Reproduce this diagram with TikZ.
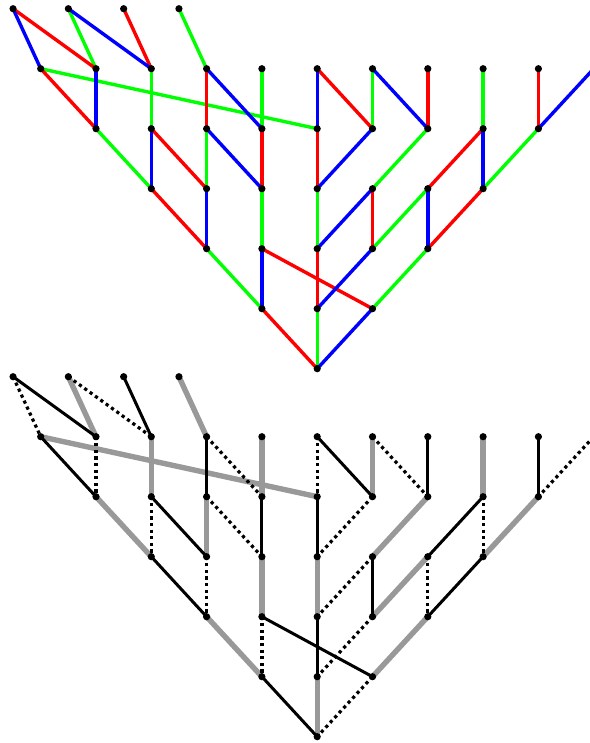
\documentclass[tikz,border=0pt]{standalone}
\usepackage{tikz}
\usetikzlibrary{calc}
\definecolor{cred}{HTML}{FF0000}
\definecolor{cgreen}{HTML}{00FF00}
\definecolor{cblue}{HTML}{0000FF}
\definecolor{cgray}{HTML}{999999}

% the trivalent graph, edges sorted by colour class e1/e2/e3
\newcommand{\drawgraph}{%
  % vertices
  \foreach \r/\nm in {0/F,1/E,2/D,3/C,4/B,5/A} {
    \pgfmathtruncatemacro{\lo}{5-\r}
    \pgfmathtruncatemacro{\hi}{5+\r}
    \foreach \c in {\lo,...,\hi} \coordinate (\nm\c) at (\c,\r);
  }
  \foreach \i/\c in {0/-0.5,1/0.5,2/1.5,3/2.5} \coordinate (T\i) at (\c,6);
  % edges
  \foreach \u/\v in {T1/A1,T3/A3,A0/B5,A2/B2,A4/B4,A6/B6,A8/B8,B1/C2,B3/C3,
                     B7/C6,B9/C8,C4/D4,C5/D5,C7/D6,D3/E4,D7/E6,E5/F5}
    \draw[e2] (\u) -- (\v);
  \foreach \u/\v in {T0/A1,T2/A2,A0/B1,A3/B3,A5/B6,A7/B7,A9/B9,B2/C3,B4/C4,
                     B5/C5,B8/C7,C2/D3,C6/D6,C8/D7,D4/E6,D5/E5,E4/F5}
    \draw[e1] (\u) -- (\v);
  \foreach \u/\v in {T0/A0,T1/A2,A1/B1,A3/B4,A5/B5,A6/B7,A10/B9,B2/C2,B3/C4,
                     B6/C5,B8/C8,C3/D3,C6/D5,C7/D7,D4/E4,D6/E5,E6/F5}
    \draw[e3] (\u) -- (\v);
  % dots
  \foreach \r/\nm in {0/F,1/E,2/D,3/C,4/B,5/A} {
    \pgfmathtruncatemacro{\lo}{5-\r}
    \pgfmathtruncatemacro{\hi}{5+\r}
    \foreach \c in {\lo,...,\hi} \fill (\nm\c) circle (3.6bp);
  }
  \foreach \i in {0,...,3} \fill (T\i) circle (3.6bp);
}

\begin{document}
\begin{tikzpicture}[x=55.3bp,y=60bp]
\useasboundingbox (-40.7bp,-6.3bp) rectangle (549.3bp,736.7bp);
\clip (-40.7bp,-6.3bp) rectangle (549.3bp,736.7bp);
% ---------- top: coloured edges ----------
\begin{scope}[yshift=368bp,name prefix=top-,
  e1/.style={cred,line width=3.4bp},
  e2/.style={cgreen,line width=3.4bp},
  e3/.style={cblue,line width=3.4bp}]
  \drawgraph
\end{scope}
% ---------- bottom: black, gray and dotted ----------
\begin{scope}[name prefix=bot-,
  e1/.style={black,line width=3bp},
  e2/.style={cgray,line width=5.4bp},
  e3/.style={black,line width=3.2bp,dash pattern=on 3.2bp off 3.4bp}]
  \drawgraph
\end{scope}
\end{tikzpicture}
\end{document}
